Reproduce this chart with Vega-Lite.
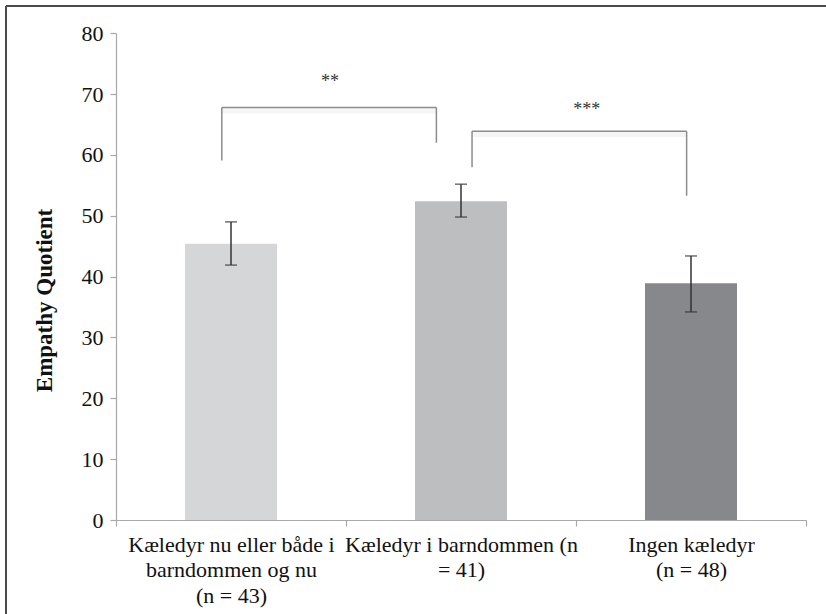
{
  "$schema": "https://vega.github.io/schema/vega-lite/v6.json",
  "autosize": {"type": "none"},
  "width": 820,
  "height": 608,
  "padding": {"left": 6, "top": 6, "right": 0, "bottom": 0},
  "background": "white",
  "view": {"stroke": "#4a4a4a", "strokeWidth": 2, "strokeDash": [820, 1428, 608, 0], "fill": "white"},
  "config": {
    "axis": {"grid": false, "domainColor": "#a8a8a8", "tickColor": "#a8a8a8", "domainWidth": 1.2, "tickWidth": 1.2, "labelFont": "Liberation Serif", "labelFontSize": 22, "labelColor": "#111111", "labelLimit": 0},
    "text": {"font": "Liberation Serif"}
  },
  "datasets": {
    "groups": [
      {"cat": "Kæledyr nu eller både i|barndommen og nu|(n = 43)", "mean": 45.4, "lo": 41.9, "hi": 49.0},
      {"cat": "Kæledyr i barndommen (n|= 41)", "mean": 52.4, "lo": 49.8, "hi": 55.2},
      {"cat": "Ingen kæledyr|(n = 48)", "mean": 38.9, "lo": 34.2, "hi": 43.4}
    ],
    "brackets": [
      {"from": 0.46, "to": 1.393, "top": 67.8, "leftEnd": 59.1, "rightEnd": 62.0, "label": "**", "labelAt": 0.93, "labelY": 72.6},
      {"from": 1.548, "to": 2.481, "top": 63.9, "leftEnd": 58.0, "rightEnd": 53.3, "label": "***", "labelAt": 2.047, "labelY": 68.0}
    ]
  },
  "resolve": {"scale": {"x": "independent"}, "axis": {"x": "independent"}},
  "layer": [
    {
      "data": {"name": "groups"},
      "encoding": {
        "x": {
          "field": "cat", "type": "nominal", "sort": null,
          "scale": {"range": [110, 800], "paddingInner": 0, "paddingOuter": 0},
          "axis": {"title": null, "offset": -94, "tickBand": "extent", "tickSize": 6, "labelPadding": 8, "labelAngle": 0, "labelLineHeight": 25.5, "labelOverlap": false, "labelBound": false, "labelLimit": 0, "labelFontSize": 22, "labelExpr": "split(datum.label, '|')"}
        }
      },
      "layer": [
        {
          "mark": {"type": "bar", "width": {"band": 0.4}},
          "encoding": {
            "y": {
              "field": "mean", "type": "quantitative", "title": "Empathy Quotient",
              "scale": {"domain": [0, 80], "range": [514, 27.3], "nice": false, "zero": true},
              "axis": {"offset": -110, "values": [0, 10, 20, 30, 40, 50, 60, 70, 80], "tickSize": 6, "labelPadding": 7, "labelFontSize": 22, "titleFont": "Liberation Serif", "titleFontSize": 23, "titleFontWeight": "bold", "titleColor": "#111111", "titleAngle": -90, "titleX": -72, "titleY": 294, "titleAlign": "center", "titleBaseline": "middle"}
            },
            "color": {"field": "cat", "type": "nominal", "legend": null,
              "scale": {"domain": ["Kæledyr nu eller både i|barndommen og nu|(n = 43)", "Kæledyr i barndommen (n|= 41)", "Ingen kæledyr|(n = 48)"], "range": ["#d5d6d8", "#bdbec0", "#87888b"]}}
          }
        },
        {
          "mark": {"type": "rule", "color": "#333333", "strokeWidth": 1.5},
          "encoding": {
            "y": {"field": "lo", "type": "quantitative", "title": "Empathy Quotient"},
            "y2": {"field": "hi"}
          }
        },
        {
          "mark": {"type": "tick", "color": "#333333", "size": 12, "thickness": 1.5, "orient": "horizontal"},
          "encoding": {"y": {"field": "hi", "type": "quantitative", "title": "Empathy Quotient"}}
        },
        {
          "mark": {"type": "tick", "color": "#333333", "size": 12, "thickness": 1.5, "orient": "horizontal"},
          "encoding": {"y": {"field": "lo", "type": "quantitative", "title": "Empathy Quotient"}}
        }
      ]
    },
    {
      "data": {"name": "brackets"},
      "layer": [
        {
          "mark": {"type": "rule", "color": "#f5f5f5", "strokeWidth": 5, "yOffset": 3.5},
          "encoding": {
            "x": {"field": "from", "type": "quantitative", "scale": {"domain": [0, 3], "range": [110, 800], "nice": false, "zero": false}, "axis": null},
            "x2": {"field": "to"},
            "y": {"field": "top", "type": "quantitative", "title": "Empathy Quotient"}
          }
        },
        {
          "mark": {"type": "rule", "color": "#8c8c8c", "strokeWidth": 1.5},
          "encoding": {
            "x": {"field": "from", "type": "quantitative", "axis": null},
            "x2": {"field": "to"},
            "y": {"field": "top", "type": "quantitative", "title": "Empathy Quotient"}
          }
        },
        {
          "mark": {"type": "rule", "color": "#8c8c8c", "strokeWidth": 1.5},
          "encoding": {
            "x": {"field": "from", "type": "quantitative", "axis": null},
            "y": {"field": "leftEnd", "type": "quantitative", "title": "Empathy Quotient"},
            "y2": {"field": "top"}
          }
        },
        {
          "mark": {"type": "rule", "color": "#8c8c8c", "strokeWidth": 1.5},
          "encoding": {
            "x": {"field": "to", "type": "quantitative", "axis": null},
            "y": {"field": "rightEnd", "type": "quantitative", "title": "Empathy Quotient"},
            "y2": {"field": "top"}
          }
        },
        {
          "mark": {"type": "text", "fontSize": 18, "color": "#333333", "baseline": "alphabetic", "align": "center", "dy": 9},
          "encoding": {
            "x": {"field": "labelAt", "type": "quantitative", "axis": null},
            "y": {"field": "labelY", "type": "quantitative", "title": "Empathy Quotient"},
            "text": {"field": "label"}
          }
        }
      ]
    }
  ]
}
